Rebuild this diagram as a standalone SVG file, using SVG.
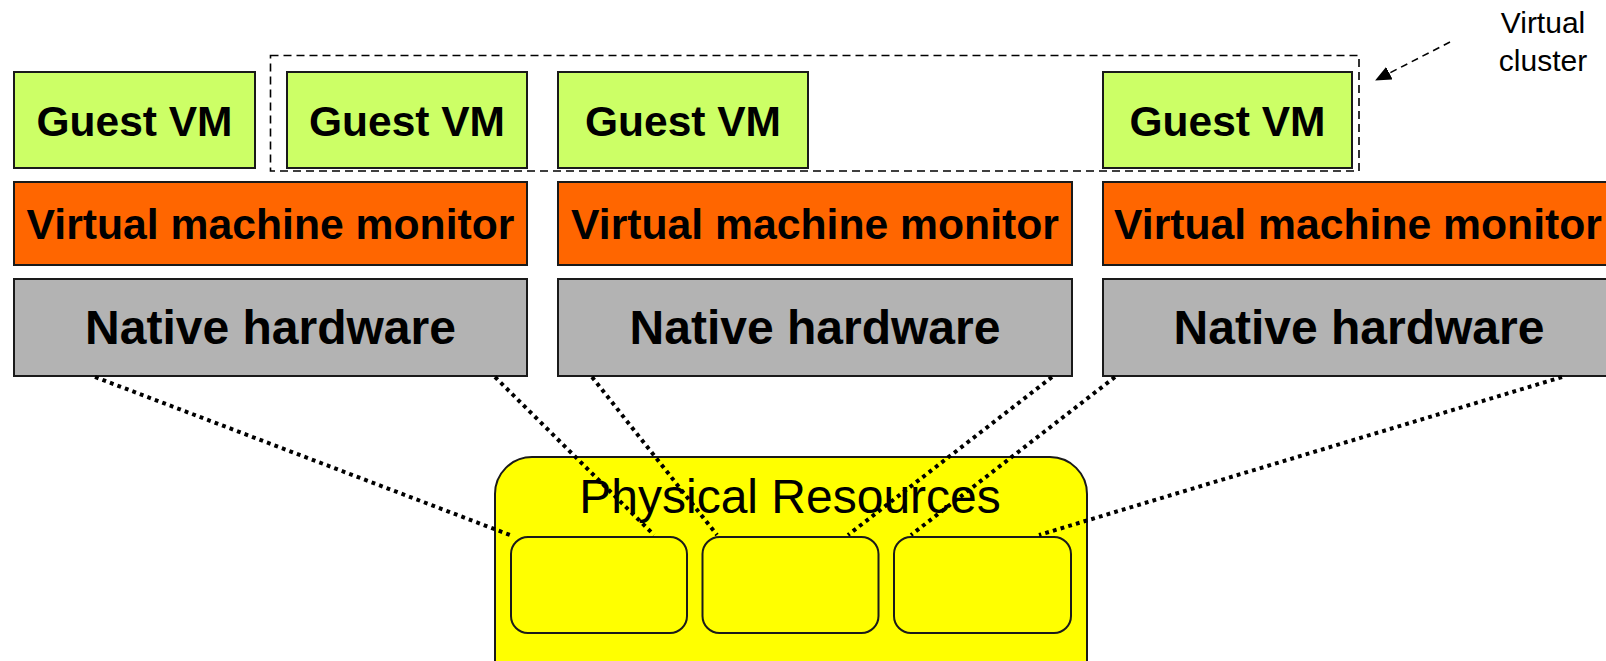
<svg xmlns="http://www.w3.org/2000/svg" width="1606" height="661" viewBox="0 0 1606 661">
<style>
.box{stroke:#1a1a1a;stroke-width:2}
.gvm{fill:#CCFF66}
.vmm{fill:#FF6600}
.hw{fill:#B3B3B3}
.pr{fill:#FFFF00;stroke:#1a1a1a;stroke-width:2}
.b{font-family:"Liberation Sans",Arial,sans-serif;font-weight:bold;fill:#000;text-anchor:middle}
.n{font-family:"Liberation Sans",Arial,sans-serif;fill:#000;text-anchor:middle}
.dot{stroke:#000;stroke-width:4;stroke-dasharray:3.8 4.2;fill:none}
.dash{stroke:#000;stroke-width:1.6;stroke-dasharray:8 5;fill:none}
</style>
<defs>
<marker id="ah" markerWidth="16" markerHeight="14" refX="15" refY="7" orient="auto" markerUnits="userSpaceOnUse">
<path d="M0,0 L16,7 L0,14 z" fill="#000"/>
</marker>
</defs>
<rect width="1606" height="661" fill="#fff"/>

<g id="cluster">
<rect class="dash" x="270.5" y="55.5" width="1088.5" height="115.5"/>
</g>

<g id="gvm1"><rect class="box gvm" x="14" y="72" width="241" height="96"/><text class="b" x="134.5" y="136" font-size="42.5">Guest VM</text></g>
<g id="gvm2"><rect class="box gvm" x="287" y="72" width="240" height="96"/><text class="b" x="407" y="136" font-size="42.5">Guest VM</text></g>
<g id="gvm3"><rect class="box gvm" x="558" y="72" width="250" height="96"/><text class="b" x="683" y="136" font-size="42.5">Guest VM</text></g>
<g id="gvm4"><rect class="box gvm" x="1103" y="72" width="249" height="96"/><text class="b" x="1227.5" y="136" font-size="42.5">Guest VM</text></g>

<g id="vmm1"><rect class="box vmm" x="14" y="182" width="513" height="83"/><text class="b" x="270.5" y="239" font-size="42.7">Virtual machine monitor</text></g>
<g id="vmm2"><rect class="box vmm" x="558" y="182" width="514" height="83"/><text class="b" x="815" y="239" font-size="42.7">Virtual machine monitor</text></g>
<g id="vmm3"><rect class="box vmm" x="1103" y="182" width="514" height="83"/><text class="b" x="1358" y="239" font-size="42.7">Virtual machine monitor</text></g>

<g id="hw1"><rect class="box hw" x="14" y="279" width="513" height="97"/><text class="b" x="270.5" y="344" font-size="48">Native hardware</text></g>
<g id="hw2"><rect class="box hw" x="558" y="279" width="514" height="97"/><text class="b" x="815" y="344" font-size="48">Native hardware</text></g>
<g id="hw3"><rect class="box hw" x="1103" y="279" width="514" height="97"/><text class="b" x="1359" y="344" font-size="48">Native hardware</text></g>

<g id="physical">
<rect class="pr" x="495" y="457" width="592" height="240" rx="37" ry="37"/>
<text class="n" x="790" y="513" font-size="48">Physical Resources</text>
</g>
<g id="res1"><rect class="pr" x="511" y="537" width="176" height="96" rx="17" ry="17"/></g>
<g id="res2"><rect class="pr" x="702.5" y="537" width="176" height="96" rx="17" ry="17"/></g>
<g id="res3"><rect class="pr" x="894" y="537" width="177" height="96" rx="17" ry="17"/></g>

<g id="label">
<text class="n" x="1543" y="33" font-size="30">Virtual</text>
<text class="n" x="1543" y="71" font-size="30">cluster</text>
</g>

<g id="connectors">
<line class="dot" x1="95" y1="377" x2="510" y2="535"/>
<line class="dot" x1="495" y1="377" x2="654" y2="535"/>
<line class="dot" x1="592" y1="377" x2="717" y2="535"/>
<line class="dot" x1="1052" y1="377" x2="848" y2="535"/>
<line class="dot" x1="1115" y1="377" x2="911" y2="535"/>
<line class="dot" x1="1562" y1="377" x2="1039" y2="535"/>
<line stroke="#000" stroke-width="1.6" stroke-dasharray="7 5" x1="1450" y1="42" x2="1376" y2="80" marker-end="url(#ah)"/>
</g>
</svg>
